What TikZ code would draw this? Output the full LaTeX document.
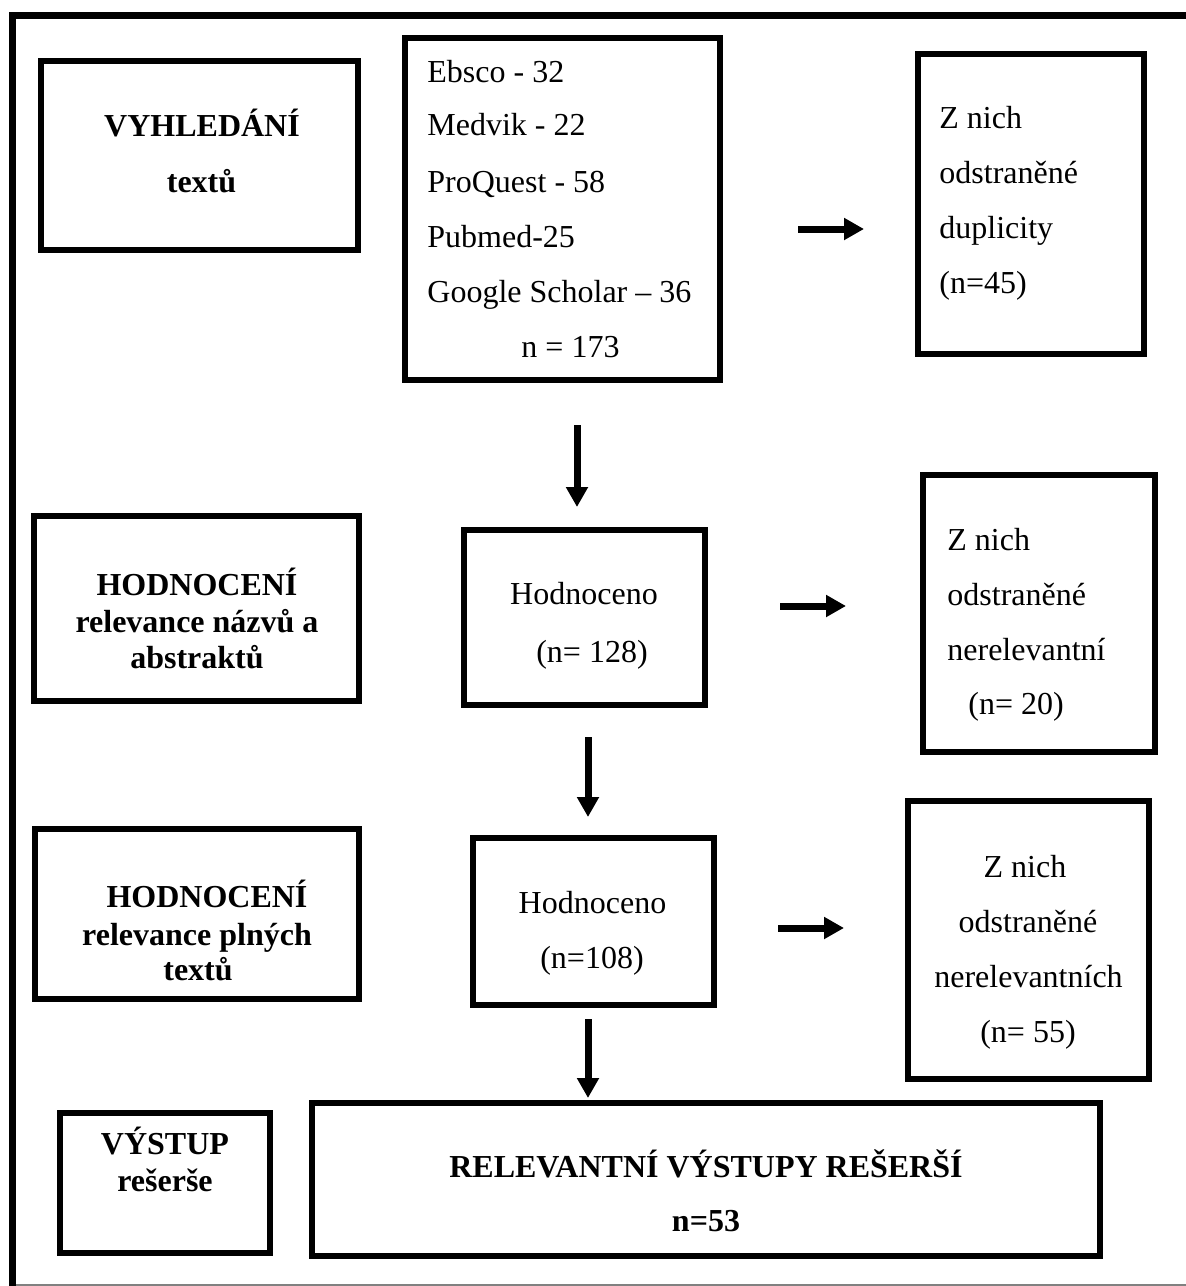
\documentclass[tikz,border=0pt]{standalone}
\usepackage{fontspec}
\setmainfont{Liberation Serif}
\usetikzlibrary{arrows.meta}
\begin{document}
\begin{tikzpicture}[x=0.5pt,y=-0.5pt,
  box/.style={draw, line width=3pt, rectangle, inner sep=0pt},
  txt/.style={inner sep=0pt, font=\fontsize{16pt}{19pt}\selectfont},
  btxt/.style={inner sep=0pt, font=\fontsize{16pt}{19pt}\selectfont\bfseries},
  arr/.style={line width=3.5pt, -{Triangle[length=10pt,width=10.5pt]}}]
\useasboundingbox (0,0) rectangle (1186,1286);
% outer frame
\draw[line width=3.5pt, line join=miter] (12.5,1300) -- (12.5,15.5) -- (1200,15.5);
\draw[gray, line width=0.6pt] (16,1285) -- (1186,1285);

% boxes
\node[box, minimum width=158.5pt, minimum height=94.5pt] (vyh) at (199.5,155.5) {};
\node[box, minimum width=157.5pt, minimum height=171pt] (src) at (562.5,209) {};
\node[box, minimum width=113pt, minimum height=150pt] (dup) at (1031,204) {};
\node[box, minimum width=162.5pt, minimum height=92.5pt] (hod1) at (196.5,608.5) {};
\node[box, minimum width=120.5pt, minimum height=87.5pt] (h1) at (584.5,617.5) {};
\node[box, minimum width=116pt, minimum height=138.5pt] (rel1) at (1039,613.5) {};
\node[box, minimum width=162pt, minimum height=85pt] (hod2) at (197,914) {};
\node[box, minimum width=120.5pt, minimum height=83.5pt] (h2) at (593.5,921.5) {};
\node[box, minimum width=120.5pt, minimum height=139pt] (rel2) at (1028.5,940) {};
\node[box, minimum width=105pt, minimum height=70pt] (vys) at (165,1183) {};
\node[box, minimum width=394pt, minimum height=76.5pt] (fin) at (706,1179.5) {};

% texts
\node[btxt, anchor=base] (vyhA) at (202,136) {VYHLEDÁNÍ};
\node[btxt, anchor=base] (vyhB) at (201.5,192) {textů};

\node[txt, anchor=base west] (srcA) at (427,82) {Ebsco - 32};
\node[txt, anchor=base west] (srcB) at (427,135) {Medvik - 22};
\node[txt, anchor=base west] (srcC) at (427,192) {ProQuest - 58};
\node[txt, anchor=base west] (srcD) at (427,247) {Pubmed-25};
\node[txt, anchor=base west] (srcE) at (427,302) {Google Scholar – 36};
\node[txt, anchor=base] (srcF) at (570.5,357) {n = 173};

\node[txt, anchor=base west] (dupA) at (939,128) {Z nich};
\node[txt, anchor=base west] (dupB) at (939,183) {odstraněné};
\node[txt, anchor=base west] (dupC) at (939,238) {duplicity};
\node[txt, anchor=base west] (dupD) at (939,293) {(n=45)};

\node[btxt, anchor=base] (hod1A) at (197,595) {HODNOCENÍ};
\node[btxt, anchor=base] (hod1B) at (197,632) {relevance názvů a};
\node[btxt, anchor=base] (hod1C) at (197,668) {abstraktů};

\node[txt, anchor=base] (h1A) at (584,604) {Hodnoceno};
\node[txt, anchor=base] (h1B) at (592,662) {(n= 128)};

\node[txt, anchor=base west] (rel1A) at (947,550) {Z nich};
\node[txt, anchor=base west] (rel1B) at (947,605) {odstraněné};
\node[txt, anchor=base west] (rel1C) at (947,660) {nerelevantní};
\node[txt, anchor=base west] (rel1D) at (968,714) {(n= 20)};

\node[btxt, anchor=base] (hod2A) at (207,907) {HODNOCENÍ};
\node[btxt, anchor=base] (hod2B) at (197,945) {relevance plných};
\node[btxt, anchor=base] (hod2C) at (198,980) {textů};

\node[txt, anchor=base] (h2A) at (592.5,913) {Hodnoceno};
\node[txt, anchor=base] (h2B) at (592,968) {(n=108)};

\node[txt, anchor=base] (rel2A) at (1025,877) {Z nich};
\node[txt, anchor=base] (rel2B) at (1028,932) {odstraněné};
\node[txt, anchor=base] (rel2C) at (1028.5,987) {nerelevantních};
\node[txt, anchor=base] (rel2D) at (1028,1042) {(n= 55)};

\node[btxt, anchor=base] (vysA) at (165,1154) {VÝSTUP};
\node[btxt, anchor=base] (vysB) at (165,1191) {rešerše};

\node[btxt, anchor=base] (finA) at (706,1177) {RELEVANTNÍ VÝSTUPY REŠERŠÍ};
\node[btxt, anchor=base] (finB) at (706,1231) {n=53};

% connectors
\draw[arr, shorten <=37.5pt, shorten >=25.5pt] (src.east |- 0,229) -- (dup.west |- 0,229);
\draw[arr, shorten <=36pt, shorten >=37pt] (h1.east |- 0,606) -- (rel1.west |- 0,606);
\draw[arr, shorten <=30.5pt, shorten >=30.5pt] (h2.east |- 0,928) -- (rel2.west |- 0,928);
\draw[arr, shorten <=21pt, shorten >=10pt] (577,0 |- src.south) -- (577,0 |- h1.north);
\draw[arr, shorten <=14.5pt, shorten >=9pt] (588,0 |- h1.south) -- (588,0 |- h2.north);
\draw[arr, shorten <=5.5pt, shorten >=1pt] (588,0 |- h2.south) -- (588,0 |- fin.north);
\end{tikzpicture}
\end{document}
